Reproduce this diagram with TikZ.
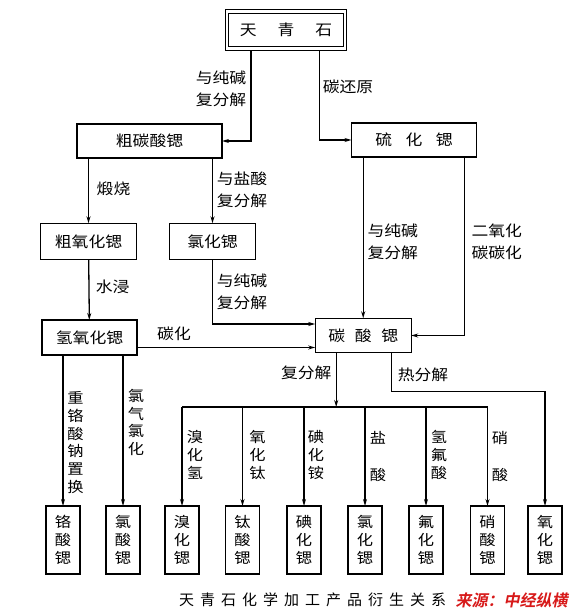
\documentclass[tikz,border=0pt]{standalone}
\usepackage{fontspec}
\setmainfont{Noto Sans CJK SC}[FakeStretch=1.12]
\newfontfamily\capfont{Noto Sans CJK SC}[LetterSpace=40]
\newfontfamily\srcfont{Noto Sans CJK SC}[UprightFont={* Bold},FakeSlant=0.2]
\usetikzlibrary{arrows.meta}
\definecolor{srcred}{RGB}{215,25,25}
\newcommand\zh{\fontsize{15}{21.5}\selectfont}
\newcommand\zhs{\fontsize{14.5}{17.7}\selectfont}
\begin{document}
\begin{tikzpicture}[x=1pt,y=-1pt,
  every node/.style={inner sep=0pt,outer sep=0pt},
  box/.style={draw,line width=1.3pt,minimum height=35pt,font=\zh},
  prod/.style={draw,line width=1.3pt,minimum width=34pt,minimum height=68pt,align=center,font=\zhs},
  lab/.style={align=center,font=\zh},
  col/.style={align=center,font=\zhs},
  link/.style={line width=1.3pt},
  arr/.style={line width=1.3pt,-{Stealth[length=7pt,width=4pt]}}]
\useasboundingbox (0,0) rectangle (577,612);
% upper boxes
\node[box,double,double distance=2.2pt,line width=1.1pt,outer sep=2.2pt,minimum width=118pt,minimum height=37pt] (tqs) at (286,30) {天\hspace{1.4em}青\hspace{1.4em}石};
\node[box,minimum width=145pt,minimum height=34pt] (ctsr) at (149.5,141) {粗碳酸锶};
\node[box,minimum width=125pt,minimum height=34pt] (lhs) at (414,140) {硫\hspace{0.9em}化\hspace{0.9em}锶};
\node[box,minimum width=96pt,minimum height=36pt] (czyhs) at (88.5,241.3) {粗氧化锶};
\node[box,minimum width=86pt,minimum height=36pt] (lhs2) at (212.5,241.3) {氯化锶};
\node[box,minimum width=95pt,minimum height=35pt] (qyhs) at (89.5,337.5) {氢氧化锶};
\node[box,minimum width=96pt,minimum height=34.4pt] (tss) at (363.2,335.5) {碳\hspace{0.65em}酸\hspace{0.65em}锶};
% products
\node[prod] (gss) at (63,540) {铬\\酸\\锶};
\node[prod] (lss) at (123,540) {氯\\酸\\锶};
\node[prod] (xhs) at (182,540) {溴\\化\\锶};
\node[prod] (tsr) at (242.5,540) {钛\\酸\\锶};
\node[prod] (dhs) at (304,540) {碘\\化\\锶};
\node[prod] (lhs3) at (365,540) {氯\\化\\锶};
\node[prod] (fhs) at (426,540) {氟\\化\\锶};
\node[prod] (xss) at (487.5,540) {硝\\酸\\锶};
\node[prod] (ysr) at (545,540) {氧\\化\\锶};
% labels
\node[lab] (l1) at (221,89) {与纯碱\\复分解};
\node[lab] (l2) at (348,87.3) {碳还原};
\node[lab] (l3) at (113.5,188.3) {煅烧};
\node[lab] (l4) at (242,190) {与盐酸\\复分解};
\node[lab] (l5) at (392.8,241.7) {与纯碱\\复分解};
\node[lab] (l6) at (496.8,241.7) {二氧化\\碳碳化};
\node[lab] (l7) at (112.6,287.3) {水浸};
\node[lab] (l8) at (242,291.7) {与纯碱\\复分解};
\node[lab] (l9) at (174,333.3) {碳化};
\node[lab] (l10) at (306.3,373.3) {复分解};
\node[lab] (l11) at (423,375) {热分解};
\node[col] (c1) at (75.4,442.5) {重\\铬\\酸\\钠\\置\\换};
\node[col] (c2) at (136,422.5) {氯\\气\\氯\\化};
\node[col] (c3) at (195,455) {溴\\化\\氢};
\node[col] (c4) at (257.5,455) {氧\\化\\钛};
\node[col] (c5) at (316,455) {碘\\化\\铵};
\node[col] (c6) at (378,456.5) {盐\\[19pt]酸};
\node[col] (c7) at (439,455) {氢\\氟\\酸};
\node[col] (c8) at (500,456.5) {硝\\[19pt]酸};
% caption
\node[font=\capfont\fontsize{15}{18}\selectfont] (cap) at (312.5,599.5) {天青石化学加工产品衍生关系};
\node[font=\srcfont\fontsize{16}{18}\selectfont,text=srcred] (src) at (511.5,600) {来源：中经纵横};
% connectors
\draw[arr] ([xshift=-35pt]tqs.south) |- (ctsr.east);
\draw[arr] ([xshift=33.5pt]tqs.south) |- (lhs.west);
\draw[arr] (ctsr.south -| czyhs) -- (czyhs);
\draw[arr] (ctsr.south -| lhs2) -- (lhs2);
\draw[arr] (czyhs) -- (qyhs);
\draw[arr] (lhs2) |- ([yshift=11.5pt]tss.west);
\draw[arr] ([yshift=-10pt]qyhs.east) -- ([yshift=-10pt]qyhs.east -| tss.west);
\draw[arr] (lhs.south -| tss) -- (tss);
\draw[arr] ([xshift=50.5pt]lhs.south) |- (tss.east);
\draw[arr] (qyhs.south -| gss) -- (gss);
\draw[arr] (qyhs.south -| lss) -- (lss);
\coordinate (bus) at (0,407);
\coordinate (hot) at (0,391.7);
\draw[arr] ([xshift=-27pt]tss.south) -- ([xshift=-27pt]tss.south |- bus);
\draw[link] (xhs.north |- bus) -- (xss.north |- bus);
\foreach \p in {xhs,tsr,dhs,lhs3,fhs,xss}
  \draw[arr] (\p.north |- bus) -- (\p.north);
\draw[arr] ([xshift=28pt]tss.south) |- (hot -| ysr.north) -- (ysr.north);
\end{tikzpicture}
\end{document}
